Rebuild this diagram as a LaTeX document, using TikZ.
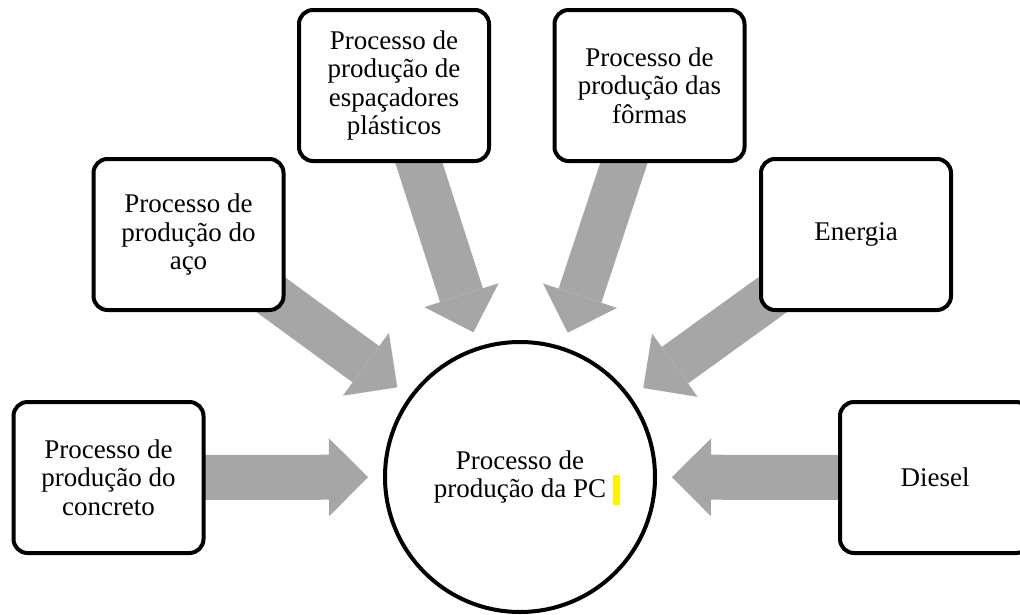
\documentclass[tikz,border=0pt]{standalone}
\usepackage{fontspec}
\setmainfont{Liberation Serif}
\usepackage{tikz}
\usetikzlibrary{arrows.meta,backgrounds}
\definecolor{arrowgray}{RGB}{166,166,166}

\begin{document}
\begin{tikzpicture}[x=1pt,y=-1pt,
  procbox/.style={draw,line width=4pt,rounded corners=14pt,fill=white,
    minimum width=190pt,minimum height=151pt,align=center,
    font=\fontsize{27}{28.5}\selectfont},
  bigarrow/.style={arrowgray,line width=45pt,shorten >=15pt,
    -{Triangle[length=39pt,width=78pt,line width=0pt]}}]
\useasboundingbox (0,0) rectangle (1020,614);

\node[draw,circle,line width=4pt,fill=white,minimum size=270pt,align=center,
  font=\fontsize{27}{28.5}\selectfont] (pc) at (520,477) {Processo de\\produção da PC};
\fill[yellow] (613,475) rectangle (620,505);

\node[procbox] (concreto) at (108.5,477.5) {Processo de\\produção do\\concreto};
\node[procbox] (aco) at (188.5,234.5) {Processo de\\produção do\\aço};
\node[procbox] (espacadores) at (394,85.5) {Processo de\\produção de\\espaçadores\\plásticos};
\node[procbox] (formas) at (649.5,85.5) {Processo de\\produção das\\fôrmas};
\node[procbox] (energia) at (856,234.5) {Energia};
\node[procbox] (diesel) at (935,477.5) {Diesel};

% arrows into the PC process
\begin{scope}[on background layer]
\foreach \src in {concreto,aco,espacadores,formas,energia,diesel}
  \draw[bigarrow] (\src.center) -- (pc);
\end{scope}

\end{tikzpicture}
\end{document}
